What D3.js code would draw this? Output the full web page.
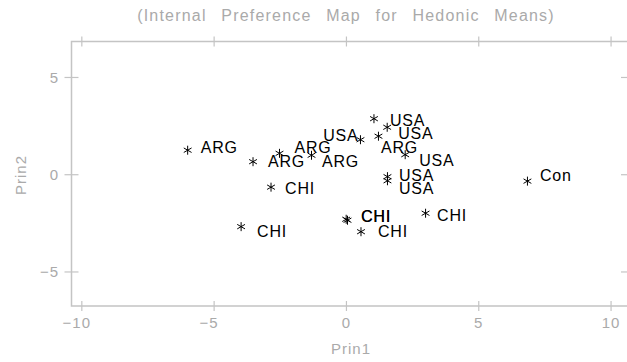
<!DOCTYPE html>
<html>
<head>
<meta charset="utf-8">
<script src="https://cdn.jsdelivr.net/npm/d3@7"></script>
<style>
  body { margin: 0; background: #fff; }
  svg { display: block; font-family: "Liberation Sans", Arial, sans-serif; }
</style>
</head>
<body>
<script>
// Panel scores on the first two principal components
var groups = ["ARG", "ARG", "ARG", "ARG", "USA", "USA", "USA", "ARG", "USA",
              "USA", "USA", "CHI", "CHI", "CHI", "CHI", "CHI", "CHI", "Con"];
var prin1 = [-6.00, -3.53, -2.53, -1.32, 0.53, 1.04, 1.54, 1.21, 2.22,
              1.55, 1.55, -2.85, -0.01, 0.04, 0.55, -3.98, 2.99, 6.84];
var prin2 = [1.26, 0.67, 1.10, 1.00, 1.80, 2.88, 2.44, 1.98, 1.03,
             -0.10, -0.31, -0.64, -2.29, -2.34, -2.93, -2.67, -1.98, -0.33];
// label placement relative to the marker (pixels), as drawn by the label optimiser
var labelShift = [[13, -3.5], [15, -0.5], [15, -6.5], [10.5, 5.5], [-2, -5], [16, 1],
                  [11, 6], [2.5, 11], [14, 5.5], [11.5, -2], [11.5, 7.5], [14, 1],
                  [15, -3], [13.5, -4], [17, -0.5], [16, 4], [11.5, 2], [12.5, -6.5]];
var xTicks = [-10, -5, 0, 5, 10];
var yTicks = [-5, 0, 5];

var width = 627, height = 362;
var axisColor = "#c4c4c4", textColor = "#aaaaaa";

var svg = d3.select("body").append("svg")
  .attr("width", width)
  .attr("height", height);

var x = d3.scaleLinear().domain([-10.39, 10.64]).range([71.5, 628]);
var y = d3.scaleLinear().domain([-6.75, 6.85]).range([306, 41.5]);

// title
svg.append("text")
  .attr("x", 346)
  .attr("y", 21)
  .attr("text-anchor", "middle")
  .style("font-size", "16px")
  .style("letter-spacing", "1.2px")
  .style("word-spacing", "9px")
  .style("fill", textColor)
  .text("(Internal Preference Map for Hedonic Means)");

// frame
var frame = svg.append("g");
frame.append("path")
  .attr("d", "M" + x.range()[1] + "," + y.range()[1] + "H" + x.range()[0] +
             "V" + y.range()[0] + "H" + x.range()[1] + "V" + y.range()[1])
  .attr("fill", "none")
  .attr("stroke", axisColor)
  .attr("stroke-width", 1.5);

// x ticks on top and bottom
[y.range()[0], y.range()[1]].forEach(function(yy) {
  frame.selectAll(null)
    .data(xTicks)
    .enter().append("line")
      .attr("x1", function(d) { return x(d); })
      .attr("x2", function(d) { return x(d); })
      .attr("y1", yy - 5)
      .attr("y2", yy + 5)
      .attr("stroke", axisColor)
      .attr("stroke-width", 1.2);
});
// y ticks on left and right
[x.range()[0], x.range()[1]].forEach(function(xx) {
  frame.selectAll(null)
    .data(yTicks)
    .enter().append("line")
      .attr("y1", function(d) { return y(d); })
      .attr("y2", function(d) { return y(d); })
      .attr("x1", xx - 7)
      .attr("x2", xx + 7)
      .attr("stroke", axisColor)
      .attr("stroke-width", 1.2);
});

function fmt(d) { return d < 0 ? "\u2212" + Math.abs(d) : String(d); }

svg.selectAll(".xlab")
  .data(xTicks)
  .enter().append("text")
    .attr("class", "xlab")
    .attr("x", function(d) { return x(d) - (d < 0 ? 5 : 0); })
    .attr("y", 328)
    .attr("text-anchor", "middle")
    .style("font-size", "15px")
    .style("letter-spacing", "1px")
    .style("fill", textColor)
    .text(fmt);

svg.selectAll(".ylab")
  .data(yTicks)
  .enter().append("text")
    .attr("class", "ylab")
    .attr("x", 59)
    .attr("y", function(d) { return y(d) + 5.5; })
    .attr("text-anchor", "end")
    .style("font-size", "15px")
    .style("letter-spacing", "1px")
    .style("fill", textColor)
    .text(fmt);

svg.append("text")
  .attr("x", 351)
  .attr("y", 354)
  .attr("text-anchor", "middle")
  .style("font-size", "15px")
  .style("letter-spacing", "1px")
  .style("fill", textColor)
  .text("Prin1");

svg.append("text")
  .attr("transform", "translate(26,175) rotate(-90)")
  .attr("text-anchor", "middle")
  .style("font-size", "15px")
  .style("letter-spacing", "1px")
  .style("fill", textColor)
  .text("Prin2");

// points
var points = groups.map(function(g, i) {
  return { group: g, p1: prin1[i], p2: prin2[i], shift: labelShift[i] };
});

var star = "M0,-4.5V4.5M-3.9,-2.25L3.9,2.25M-3.9,2.25L3.9,-2.25";

var pt = svg.append("g").selectAll("g")
  .data(points)
  .enter().append("g")
    .attr("transform", function(d) { return "translate(" + x(d.p1) + "," + y(d.p2) + ")"; });

pt.append("path")
  .attr("d", star)
  .attr("stroke", "#000")
  .attr("stroke-width", 1)
  .attr("fill", "none");

pt.append("text")
  .attr("x", function(d) { return d.shift[0]; })
  .attr("y", function(d) { return d.shift[1] + 6; })
  .attr("text-anchor", function(d) { return d.shift[0] < 0 ? "end" : "start"; })
  .style("font-size", "16px")
  .style("letter-spacing", "0.8px")
  .style("fill", "#000")
  .text(function(d) { return d.group; });
</script>
</body>
</html>
